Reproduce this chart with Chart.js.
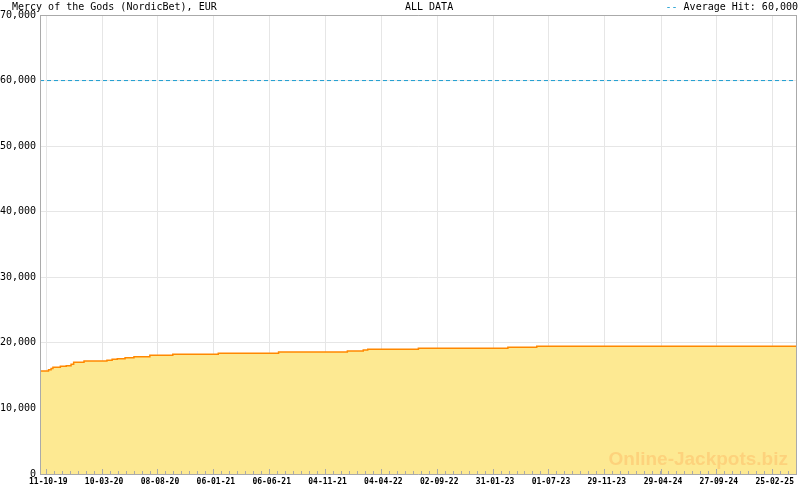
<!DOCTYPE html>
<html>
<head>
<meta charset="utf-8">
<script src="https://cdn.jsdelivr.net/npm/chart.js@4.4.1/dist/chart.umd.min.js"></script>
<style>
body { margin: 0; background: #fff; }
#wrap { position: relative; width: 800px; height: 490px; }
#c { display: block; }
.hdr { position: absolute; top: 1px; font: 10px "DejaVu Sans Mono", monospace; color: #000; line-height: 12px; white-space: pre; }
#mark { position: absolute; right: 12px; top: 448px; font: bold 19px "Liberation Sans", Arial, sans-serif; color: #fdd27c; }
</style>
</head>
<body>
<div id="wrap">
  <canvas id="c" width="800" height="490"></canvas>
  <div class="hdr" style="left:12px">Mercy of the Gods (NordicBet), EUR</div>
  <div class="hdr" style="left:405px">ALL DATA</div>
  <div class="hdr" style="right:2px"><span style="color:#1a9cd0">--</span> Average Hit: 60,000</div>
  <div id="mark">Online-Jackpots.biz</div>
</div>
<script>
// jackpot level after each change (step points)
const dates = ['2019-09-24', '2019-10-17', '2019-10-24', '2019-10-29', '2019-11-18',
  '2019-12-04', '2019-12-17', '2019-12-24', '2020-01-21', '2020-03-23', '2020-04-06',
  '2020-04-20', '2020-05-11', '2020-06-04', '2020-07-17', '2020-09-17', '2021-01-18',
  '2021-06-30', '2022-01-02', '2022-02-14', '2022-02-26', '2022-07-13', '2023-03-12',
  '2023-05-29', '2025-05-01'];
const jackpot = [15700, 15900, 16100, 16270, 16420, 16520, 16730, 17030, 17230, 17340,
  17490, 17580, 17740, 17890, 18100, 18260, 18410, 18610, 18760, 18910, 19020, 19170,
  19320, 19480, 19480];
const averageHit = 60000;
const xTickLabels = ['11-10-19', '10-03-20', '08-08-20', '06-01-21', '06-06-21', '04-11-21',
  '04-04-22', '02-09-22', '31-01-23', '01-07-23', '29-11-23', '29-04-24', '27-09-24', '25-02-25'];
const yTicks = [0, 10000, 20000, 30000, 40000, 50000, 60000, 70000];

const DAY = 86400000;
const base = Date.UTC(2019, 9, 11);
function isoDay(s) { const p = s.split('-'); return (Date.UTC(+p[0], p[1] - 1, +p[2]) - base) / DAY; }
function tickDay(s) { const p = s.split('-'); return (Date.UTC(2000 + +p[2], p[1] - 1, +p[0]) - base) / DAY; }

const xs = dates.map(isoDay);
const xMin = xs[0], xMax = xs[xs.length - 1];
const majors = xTickLabels.map(tickDay);
const minorStep = (majors[1] - majors[0]) / 7;
const minors = [];
for (let v = majors[0]; v <= xMax; v += minorStep) minors.push(v);

const monoFont = 'DejaVu Sans Mono';
const gridColor = '#e6e6e6';
const axisColor = '#aaa';

new Chart(document.getElementById('c'), {
  type: 'line',
  data: {
    datasets: [{
      data: xs.map((x, i) => ({ x: x, y: jackpot[i] })),
      stepped: true,
      borderColor: '#ff8800',
      borderWidth: 1.5,
      backgroundColor: '#fde992',
      fill: 'origin',
      pointRadius: 0,
      order: 2
    }, {
      data: [{ x: xMin, y: averageHit }, { x: xMax, y: averageHit }],
      borderColor: '#1a9cd0',
      borderWidth: 1,
      borderDash: [4, 3],
      fill: false,
      pointRadius: 0,
      order: 1
    }]
  },
  options: {
    responsive: false,
    animation: false,
    layout: { padding: { top: 15, right: 1, left: 0, bottom: 0 } },
    plugins: { legend: { display: false }, tooltip: { enabled: false } },
    scales: {
      // labels + major tick marks, drawn above the fill
      x: {
        type: 'linear', position: 'bottom', min: xMin, max: xMax, z: 1,
        afterBuildTicks: s => { s.ticks = majors.map(v => ({ value: v })); },
        afterFit: s => { s.height = 16; },
        ticks: {
          autoSkip: false, maxRotation: 0, padding: 8, labelOffset: 2, color: '#000',
          font: { family: monoFont, size: 8, weight: 'bold' },
          callback: (v, i) => xTickLabels[i]
        },
        grid: { z: 1, drawOnChartArea: false, tickColor: axisColor, tickLength: -5 },
        border: { z: 1, color: axisColor }
      },
      // vertical grid lines, behind the fill
      xg: {
        type: 'linear', position: { y: 0 }, min: xMin, max: xMax,
        afterBuildTicks: s => { s.ticks = majors.map(v => ({ value: v })); },
        afterFit: s => { s.height = 0; },
        ticks: { display: false },
        grid: { color: gridColor, drawTicks: false },
        border: { display: false }
      },
      // minor tick marks
      x2: {
        type: 'linear', position: { y: 0 }, min: xMin, max: xMax, z: 1,
        afterBuildTicks: s => { s.ticks = minors.map(v => ({ value: v })); },
        afterFit: s => { s.height = 0; },
        ticks: { display: false },
        grid: { z: 1, drawOnChartArea: false, tickColor: axisColor, tickLength: -3 },
        border: { display: false }
      },
      y: {
        min: 0, max: 70000,
        afterBuildTicks: s => { s.ticks = yTicks.map(v => ({ value: v })); },
        afterFit: s => { s.width = 40; },
        ticks: {
          padding: 4, color: '#000',
          font: { family: monoFont, size: 10 },
          callback: v => v.toLocaleString('en-US')
        },
        grid: { color: c => (c.tick && c.tick.value === 70000) ? axisColor : gridColor, drawTicks: false },
        border: { z: 1, color: axisColor }
      },
      y2: {
        position: 'right',
        afterFit: s => { s.width = 0; },
        ticks: { display: false },
        grid: { drawOnChartArea: false, drawTicks: false },
        border: { z: 1, color: axisColor }
      }
    }
  }
});
</script>
</body>
</html>
